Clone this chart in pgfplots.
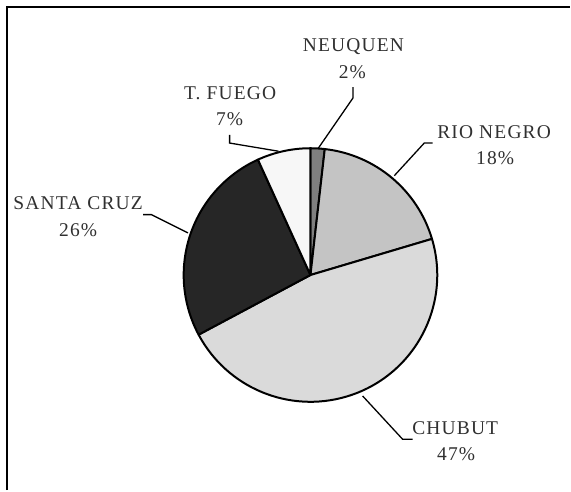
\documentclass[border=0pt]{standalone}
\usepackage{fontspec}
\setmainfont{Liberation Serif}[LetterSpace=6]
\usepackage{pgfplots}
\pgfplotsset{compat=1.18}
\usepackage{pgfplotstable}

\definecolor{slice0}{HTML}{7F7F7F}
\definecolor{slice1}{HTML}{C4C4C4}
\definecolor{slice2}{HTML}{DADADA}
\definecolor{slice3}{HTML}{262626}
\definecolor{slice4}{HTML}{F7F7F7}
\definecolor{txt}{HTML}{303030}

% share of each province (percent), clockwise from 12 o'clock
\pgfplotstableread{
name        pct
NEUQUEN     1.8
RIO-NEGRO   18.6
CHUBUT      46.8
SANTA-CRUZ  26.0
T.FUEGO     6.8
}\piedata

\begin{document}
\begin{tikzpicture}
\begin{axis}[
  hide axis, scale only axis, clip=false,
  width=571bp, height=491bp,
  xmin=0, xmax=571, ymin=0, ymax=491,
]
% page extent
\path (axis cs:0,0) rectangle (axis cs:571,491);
% frame (only left and top sides visible)
\draw[line width=2bp, black, line cap=butt] (axis cs:7,0) -- (axis cs:7,484) -- (axis cs:571,484);

% pie slices
\def\cum{0}
\pgfplotsforeachungrouped \i in {0,...,4}{%
  \pgfplotstablegetelem{\i}{pct}\of\piedata
  \let\v\pgfplotsretval
  \pgfmathsetmacro\a{90-3.6*\cum}%
  \pgfmathsetmacro\cum{\cum+\v}%
  \pgfmathsetmacro\b{90-3.6*\cum}%
  \edef\temp{\noexpand\filldraw[fill=slice\i, draw=black, line width=2bp, line join=round]
    (axis cs:311,215.5) -- ++(\a:127bp) arc[start angle=\a, end angle=\b, radius=127bp] -- cycle;}%
  \temp
}

% leader lines
\begin{scope}[line width=1.3bp, black]
\draw (axis cs:353.7,403.7) -- (axis cs:353.7,393) -- (axis cs:319,342.7);
\draw (axis cs:230,356) -- (axis cs:230,347.7) -- (axis cs:279,339.5);
\draw (axis cs:433.3,347.7) -- (axis cs:425,347.7) -- (axis cs:395,315);
\draw (axis cs:143.3,276) -- (axis cs:151.7,276) -- (axis cs:188.3,257.7);
\draw (axis cs:413.3,51) -- (axis cs:403.3,51) -- (axis cs:363.3,94.3);
\end{scope}

% labels
\begin{scope}[every node/.style={anchor=base, inner sep=0pt, text=txt, font=\fontsize{19.5bp}{22bp}\selectfont}]
\node at (axis cs:354,439.3) {NEUQUEN};
\node at (axis cs:353,412.7) {2\%};
\node at (axis cs:230.5,391.7) {T. FUEGO};
\node at (axis cs:230,365) {7\%};
\node at (axis cs:495,352.7) {RIO NEGRO};
\node at (axis cs:496,326) {18\%};
\node at (axis cs:78.3,281) {SANTA CRUZ};
\node at (axis cs:78.3,253.7) {26\%};
\node at (axis cs:456,56) {CHUBUT};
\node at (axis cs:457,29.3) {47\%};
\end{scope}
\end{axis}
\end{tikzpicture}
\end{document}
